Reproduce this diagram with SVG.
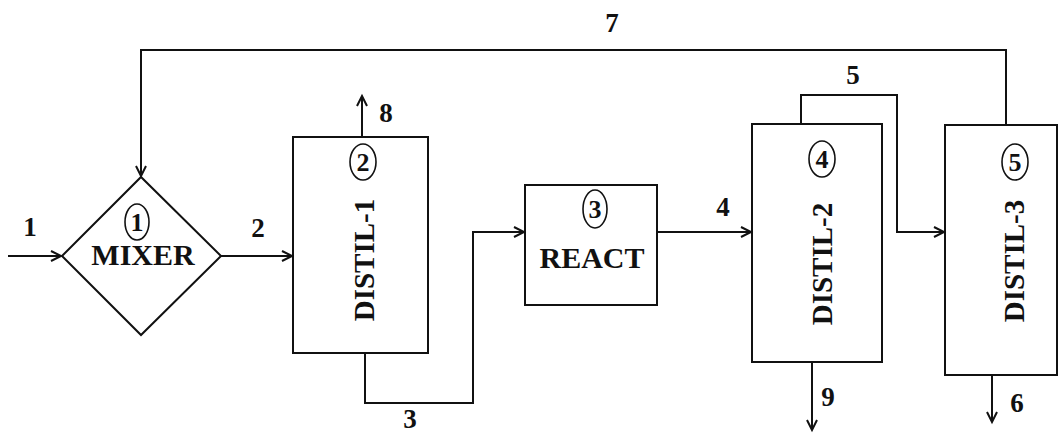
<svg xmlns="http://www.w3.org/2000/svg" width="1058" height="440" viewBox="0 0 1058 440">
<style>
.shape{fill:none;stroke:#111;stroke-width:2}
.conn{fill:none;stroke:#111;stroke-width:2}
.lbl{font-size:27px;fill:#111;text-anchor:middle}
.name{font-size:30px;fill:#111;text-anchor:middle}
.vname{font-size:29px;fill:#111;text-anchor:middle}
.num{font-size:26px;fill:#111;text-anchor:middle}
.ell{fill:none;stroke:#111;stroke-width:1.6}
</style>
<defs>
<marker id="arr" markerUnits="userSpaceOnUse" markerWidth="14" markerHeight="14" refX="11" refY="6" orient="auto" viewBox="0 0 14 12">
<path d="M1,1 L11,6 L1,11" fill="none" stroke="#111" stroke-width="2"/>
</marker>
</defs>
<rect width="1058" height="440" fill="#fff"/>
<g font-family="Liberation Serif, Times New Roman, serif" font-weight="bold">
<g id="mixer">
<polygon class="shape" points="62,256 141,177 221,256 141,335"/>
<ellipse class="ell" cx="137" cy="222" rx="12" ry="18"/>
<text class="num" x="137" y="231">1</text>
<text class="name" x="143" y="265">MIXER</text>
</g>
<g id="distil1">
<rect class="shape" x="293" y="137" width="135" height="216"/>
<ellipse class="ell" cx="363" cy="162" rx="13" ry="18"/>
<text class="num" x="363" y="171">2</text>
<text class="vname" transform="translate(374,260) rotate(-90)" x="0" y="0">DISTIL-1</text>
</g>
<g id="react">
<rect class="shape" x="525" y="185" width="132" height="120"/>
<ellipse class="ell" cx="595" cy="209" rx="12" ry="19"/>
<text class="num" x="595" y="218">3</text>
<text class="name" x="592" y="268">REACT</text>
</g>
<g id="distil2">
<rect class="shape" x="752" y="124" width="130" height="238"/>
<ellipse class="ell" cx="822" cy="159" rx="13" ry="18"/>
<text class="num" x="822" y="168">4</text>
<text class="vname" transform="translate(832,264) rotate(-90)" x="0" y="0">DISTIL-2</text>
</g>
<g id="distil3">
<rect class="shape" x="945" y="125" width="112" height="250"/>
<ellipse class="ell" cx="1015" cy="162" rx="13" ry="18"/>
<text class="num" x="1015" y="171">5</text>
<text class="vname" transform="translate(1024,261) rotate(-90)" x="0" y="0">DISTIL-3</text>
</g>
<g id="connectors">
<path class="conn" d="M8,256 L61,256" marker-end="url(#arr)"/>
<path class="conn" d="M221,256 L292,256" marker-end="url(#arr)"/>
<path class="conn" d="M365,353 L365,403 L473,403 L473,232 L524,232" marker-end="url(#arr)"/>
<path class="conn" d="M657,232 L751,232" marker-end="url(#arr)"/>
<path class="conn" d="M801,124 L801,95 L897,95 L897,232 L944,232" marker-end="url(#arr)"/>
<path class="conn" d="M1006,125 L1006,50 L141,50 L141,176" marker-end="url(#arr)"/>
<path class="conn" d="M362,137 L362,96" marker-end="url(#arr)"/>
<path class="conn" d="M812,362 L812,430" marker-end="url(#arr)"/>
<path class="conn" d="M992,375 L992,422" marker-end="url(#arr)"/>
<text class="lbl" x="30" y="236">1</text>
<text class="lbl" x="258" y="237">2</text>
<text class="lbl" x="410" y="428">3</text>
<text class="lbl" x="723" y="216">4</text>
<text class="lbl" x="853" y="84">5</text>
<text class="lbl" x="1017" y="412">6</text>
<text class="lbl" x="612" y="32">7</text>
<text class="lbl" x="386" y="122">8</text>
<text class="lbl" x="828" y="406">9</text>
</g>
</g>
</svg>
